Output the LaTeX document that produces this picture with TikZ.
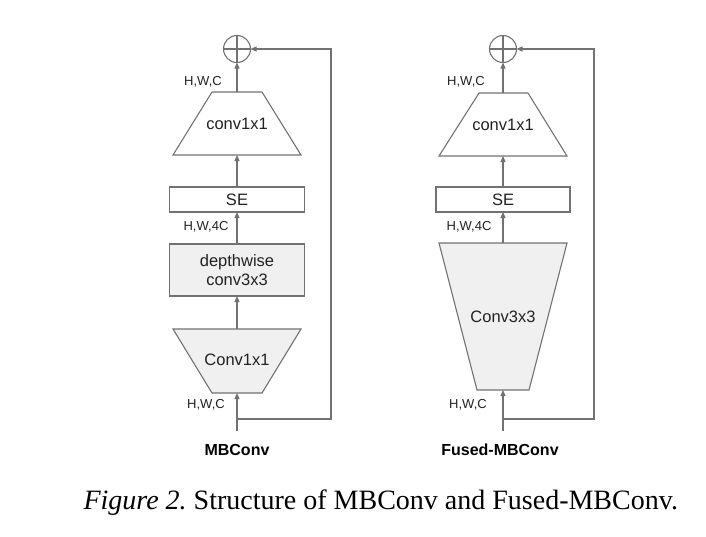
\documentclass[tikz,border=0pt]{standalone}
\usepackage{fontspec}
\setmainfont{Liberation Serif}
\setsansfont{Liberation Sans}
\usetikzlibrary{arrows.meta}
\definecolor{edge}{HTML}{727272}
\definecolor{blockfill}{HTML}{F0F0F0}
\definecolor{ink}{HTML}{222222}
\begin{document}
\begin{tikzpicture}[x=1pt,y=-1pt,
  line width=1.1pt,
  flow/.style={draw=edge,-{Triangle[length=6pt,width=5pt]}},
  outline/.style={draw=edge,line join=miter},
  label/.style={font=\sffamily\fontsize{16.5}{19}\selectfont,text=ink,align=center},
  block/.style={draw=edge,rectangle,outer sep=0pt,inner sep=0pt,label},
  % invisible frame of a trapezoid: carries the text and the north/south anchors
  trapframe/.style={rectangle,outer sep=0pt,inner sep=0pt,minimum width=40pt,label},
  addop/.style={draw=edge,circle,minimum size=27pt,inner sep=0pt,outer sep=0pt,
    path picture={\draw[edge,line width=1.1pt]
      (path picture bounding box.north) -- (path picture bounding box.south)
      (path picture bounding box.west) -- (path picture bounding box.east);}},
  dims/.style={font=\sffamily\fontsize{13}{15}\selectfont,text=ink},
  title/.style={font=\sffamily\bfseries\fontsize{16}{18}\selectfont,text=black}]
\useasboundingbox (0,0) rectangle (706,536);

% ---- MBConv ----
\filldraw[outline,fill=white] (212,92) -- (262,92) -- (301,155) -- (173,155) -- cycle;
\filldraw[outline,fill=blockfill] (173,329) -- (301,329) -- (262,393) -- (212,393) -- cycle;

\node[addop] (plusL) at (237,49) {};
\node[trapframe,minimum height=63pt] (topL) at (237,123.5) {conv1x1};
\node[block,minimum width=135pt,minimum height=25pt] (seL) at (237,199.5) {SE};
\node[block,fill=blockfill,minimum width=135pt,minimum height=52pt] (dwL) at (237,270) {depthwise\\conv3x3};
\node[trapframe,minimum height=64pt] (c1L) at (237,361) {\raisebox{3pt}{Conv1x1}};
\coordinate (inL) at (237,431);
\coordinate (brL) at (237,419);
\coordinate (skL1) at (331,419);
\coordinate (skL2) at (331,49);

\draw[flow] (topL.north) -- (plusL);
\draw[flow] (seL.north) -- (topL.south);
\draw[flow] (dwL.north) -- (seL.south);
\draw[flow] (c1L.north) -- (dwL.south);
\draw[flow] (inL) -- (c1L.south);
\draw[flow] (brL) -- (skL1) -- (skL2) -- (plusL);

\node[dims] (lblL1) at (203,82) {H,W,C};
\node[dims] (lblL2) at (206,227) {H,W,4C};
\node[dims] (lblL3) at (206,405) {H,W,C};
\node[title] (nameL) at (237,450) {MBConv};

% ---- Fused-MBConv ----
\filldraw[outline,fill=white] (479,93) -- (528,93) -- (567,156) -- (439,156) -- cycle;
\filldraw[outline,fill=blockfill] (439,243) -- (567,243) -- (529,390) -- (477,390) -- cycle;

\node[addop] (plusR) at (503,49) {};
\node[trapframe,minimum height=63pt] (topR) at (503,124.5) {conv1x1};
\node[block,minimum width=134pt,minimum height=25pt] (seR) at (503,199.5) {SE};
\node[trapframe,minimum height=147pt] (c3R) at (503,316.5) {Conv3x3};
\coordinate (inR) at (503,431);
\coordinate (brR) at (503,419);
\coordinate (skR1) at (594,419);
\coordinate (skR2) at (594,49);

\draw[flow] (topR.north) -- (plusR);
\draw[flow] (seR.north) -- (topR.south);
\draw[flow] (c3R.north) -- (seR.south);
\draw[flow] (inR) -- (c3R.south);
\draw[flow] (brR) -- (skR1) -- (skR2) -- (plusR);

\node[dims] (lblR1) at (466,82) {H,W,C};
\node[dims] (lblR2) at (469,227) {H,W,4C};
\node[dims] (lblR3) at (468,405) {H,W,C};
\node[title] (nameR) at (500,450) {Fused-MBConv};

% ---- caption ----
\node[anchor=base west,inner sep=0pt,font=\fontsize{28}{32}\selectfont] (cap) at (83,509)
  {\textit{Figure 2.}\ Structure of MBConv and Fused-MBConv.};
\end{tikzpicture}
\end{document}
